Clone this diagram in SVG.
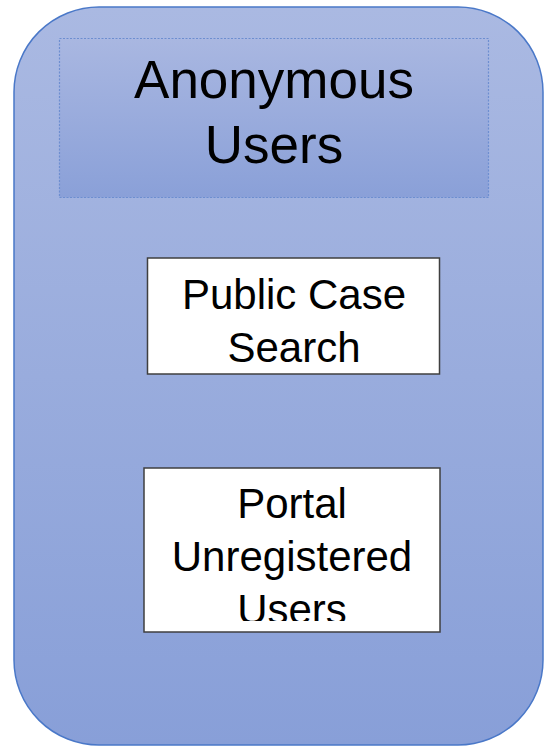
<svg xmlns="http://www.w3.org/2000/svg" width="545" height="746" viewBox="0 0 545 746">
  <style>
    .lbl { font-family: "Liberation Sans", Arial, sans-serif; fill: #000; text-anchor: middle; }
    .box { fill: #fff; stroke: #3f3f3f; stroke-width: 1.5; }
  </style>
  <defs>
    <linearGradient id="bg" x1="0" y1="0" x2="0" y2="1">
      <stop offset="0" stop-color="#AAB9E2"/>
      <stop offset="1" stop-color="#889FD8"/>
    </linearGradient>
    <linearGradient id="hdr" x1="0" y1="0" x2="0" y2="1">
      <stop offset="0" stop-color="#A9B7E1"/>
      <stop offset="1" stop-color="#8AA0D8"/>
    </linearGradient>
    <clipPath id="clipPortal">
      <rect x="144" y="468" width="296" height="153"/>
    </clipPath>
  </defs>
  <g id="anonymous-users">
    <rect x="14" y="7" width="529" height="738" rx="85" ry="85" fill="url(#bg)" stroke="#4A78C8" stroke-width="1.5"/>
    <rect x="59.5" y="38.5" width="429" height="159" fill="url(#hdr)" stroke="#6D8ED0" stroke-width="1.2" stroke-dasharray="2 1.5"/>
    <text class="lbl" font-size="53" x="274" y="98">Anonymous</text>
    <text class="lbl" font-size="53" x="274" y="163">Users</text>
  </g>
  <g id="public-case-search">
    <rect class="box" x="147.5" y="258" width="292" height="116"/>
    <text class="lbl" font-size="42" x="294" y="309">Public Case</text>
    <text class="lbl" font-size="42" x="294" y="362">Search</text>
  </g>
  <g id="portal-unregistered-users">
    <rect class="box" x="144" y="468" width="296" height="164"/>
    <g clip-path="url(#clipPortal)">
      <text class="lbl" font-size="42" x="292" y="518">Portal</text>
      <text class="lbl" font-size="42" x="292" y="571">Unregistered</text>
      <text class="lbl" font-size="42" x="292" y="624">Users</text>
    </g>
  </g>
  <g id="connectors"/>
</svg>
